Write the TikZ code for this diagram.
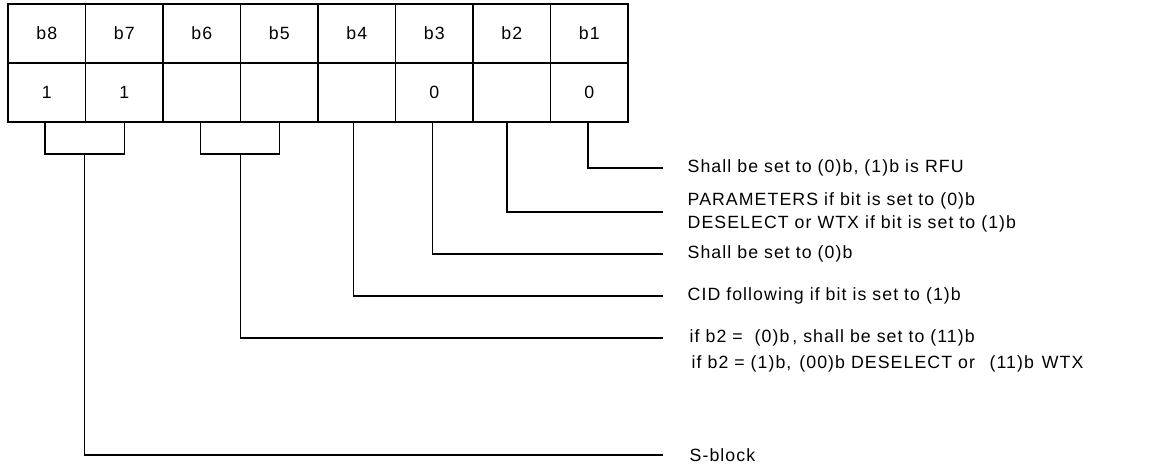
\documentclass[tikz,border=0pt]{standalone}
\usepackage{fontspec}
\setmainfont{Liberation Sans}
\newfontfamily\labfont[LetterSpace=6]{Liberation Sans}
\begin{document}
\begin{tikzpicture}[x=0.75pt,y=-0.75pt,line width=1pt,
  cell/.style={draw,line width=1.1pt,minimum width=58.125pt,minimum height=44.25pt,inner sep=0pt,font=\labfont\fontsize{13.3}{17.25}\selectfont},
  lab/.style={anchor=west,inner sep=0pt,font=\labfont\fontsize{13.3}{17.25}\selectfont}]
\useasboundingbox (0,0) rectangle (1160,472);
\foreach \i/\val [count=\k from 0] in {8/1,7/1,6/{},5/{},4/{},3/0,2/{},1/0}{
  \node[cell] (h\i) at ({46.75+77.5*\k},33.5) {b\i};
  \node[cell] (v\i) at ({46.75+77.5*\k},92.5) {\val};
}
% stem tops on the table bottom
\coordinate (k8) at (45,122);
\coordinate (k7) at (124.5,122);
\coordinate (k6) at (200.5,122);
\coordinate (k5) at (279.5,122);
\coordinate (s4) at (353.5,122);
\coordinate (s3) at (432.5,122);
\coordinate (s2) at (507,122);
\coordinate (s1) at (588,122);
% brackets
\draw (k8) |- (k7 |- 0,154) -- (k7);
\draw (k6) |- (k5 |- 0,154) -- (k5);
\coordinate (s87) at (84.5,154);
\coordinate (s65) at (240.5,154);
% labels
\node[lab] (t1) at (687,168) {Shall be set to (0)b, (1)b is RFU};
\node[lab,align=left] (t2) at (687,212) {PARAMETERS if bit is set to (0)b\\DESELECT or WTX if bit is set to (1)b};
\node[lab] (t3) at (687,254) {Shall be set to (0)b};
\node[lab] (t4) at (687,296) {CID following if bit is set to (1)b};
\node[lab] (t5) at (689,338) {if b2 =\ \ (0)b\,, shall be set to (11)b};
\node[lab] (t5b) at (691,364) {if b2 = (1)b,\hspace{1.5pt} (00)b DESELECT or\hspace{2pt}\ \ (11)b\hspace{1.5pt} WTX};
\node[lab] (t6) at (689,455) {S-block};
% connectors
\draw (s1) |- ([xshift=-18pt]t1.west);
\draw (s2) |- ([xshift=-18pt]t2.west);
\draw (s3) |- ([xshift=-18pt]t3.west);
\draw (s4) |- ([xshift=-18pt]t4.west);
\draw (s65) |- ([xshift=-19.5pt]t5.west);
\draw (s87) |- ([xshift=-19.5pt]t6.west);
\end{tikzpicture}
\end{document}
